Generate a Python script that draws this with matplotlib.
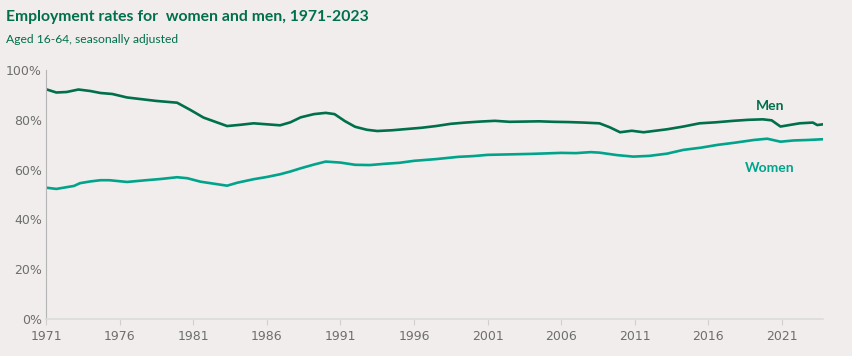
import matplotlib.pyplot as plt
import numpy as np

# data (employment rate, %)
men_years = [1971.0, 1971.7, 1972.4, 1973.2, 1974.0, 1974.7, 1975.5, 1976.5, 1977.5, 1978.5,
             1979.9, 1980.8, 1981.7, 1982.5, 1983.3, 1984.2, 1985.1, 1986.0, 1986.9, 1987.6,
             1988.3, 1989.2, 1990.0, 1990.6, 1991.3, 1992.0, 1992.8, 1993.5, 1994.5, 1995.5,
             1996.5, 1997.5, 1998.5, 1999.5, 2000.5, 2001.5, 2002.5, 2003.5, 2004.5, 2005.5,
             2006.5, 2007.5, 2008.6, 2009.3, 2010.0, 2010.8, 2011.6, 2012.4, 2013.2, 2014.3,
             2015.4, 2016.5, 2017.7, 2018.7, 2019.7, 2020.3, 2020.9, 2021.5, 2022.2, 2023.1,
             2023.4, 2023.8]
men = [92.3, 91.0, 91.2, 92.2, 91.6, 90.8, 90.4, 89.0, 88.3, 87.6,
       86.9, 84.0, 80.9, 79.2, 77.5, 78.0, 78.6, 78.2, 77.8, 79.0,
       81.0, 82.3, 82.8, 82.3, 79.5, 77.2, 76.0, 75.5, 75.8, 76.3,
       76.8, 77.5, 78.4, 78.9, 79.3, 79.6, 79.2, 79.3, 79.4, 79.2,
       79.1, 78.9, 78.6, 77.0, 75.0, 75.6, 75.0, 75.6, 76.2, 77.3,
       78.6, 79.0, 79.6, 80.0, 80.2, 79.8, 77.3, 77.9, 78.6, 78.9,
       77.9, 78.2]

women_years = [1971.0, 1971.7, 1972.9, 1973.3, 1974.0, 1974.7, 1975.3, 1976.5, 1977.8, 1978.8,
               1979.9, 1980.6, 1981.5, 1982.4, 1983.3, 1984.0, 1985.1, 1986.0, 1986.9, 1987.6,
               1988.3, 1989.2, 1990.0, 1991.0, 1992.0, 1993.0, 1994.0, 1995.0, 1996.0, 1997.5,
               1999.0, 2000.0, 2001.0, 2002.5, 2004.0, 2005.0, 2006.0, 2007.0, 2008.0, 2008.6,
               2009.8, 2010.9, 2012.0, 2013.2, 2014.3, 2015.5, 2016.6, 2017.8, 2019.1, 2020.0,
               2020.9, 2021.8, 2022.8, 2023.8]
women = [52.7, 52.2, 53.4, 54.5, 55.2, 55.7, 55.7, 55.0, 55.7, 56.2,
         56.9, 56.5, 55.1, 54.3, 53.5, 54.7, 56.1, 57.0, 58.1, 59.2,
         60.5, 62.0, 63.2, 62.8, 61.9, 61.8, 62.3, 62.7, 63.5, 64.2,
         65.1, 65.4, 65.9, 66.1, 66.3, 66.5, 66.7, 66.6, 67.0, 66.8,
         65.8, 65.2, 65.5, 66.4, 67.9, 68.8, 69.9, 70.8, 71.9, 72.4,
         71.2, 71.7, 71.9, 72.2]

xticks = [1971, 1976, 1981, 1986, 1991, 1996, 2001, 2006, 2011, 2016, 2021]
yticks = [0, 20, 40, 60, 80, 100]

bg = '#f1edec'
men_col = '#006f4b'
women_col = '#00a48b'
grey = '#6e6e6e'

fig = plt.figure(figsize=(8.53, 3.56), dpi=100, facecolor=bg)
ax = fig.add_axes([0.054, 0.105, 0.911, 0.698], facecolor=bg)

ax.plot(men_years, men, color=men_col, lw=1.9, solid_joinstyle='round')
ax.plot(women_years, women, color=women_col, lw=1.9, solid_joinstyle='round')

ax.set_xlim(1971, 2023.8)
ax.set_ylim(0, 100)
ax.set_xticks(xticks)
ax.set_xticklabels([str(x) for x in xticks])
ax.set_yticks(yticks)
ax.set_yticklabels([f'{y}%' for y in yticks])

tick_font = ['Liberation Sans Narrow', 'DejaVu Sans Condensed', 'DejaVu Sans']
for lab in ax.get_xticklabels() + ax.get_yticklabels():
    lab.set_family(tick_font)
    lab.set_fontsize(9)
    lab.set_color(grey)

ax.tick_params(axis='x', length=4, color='#cfcfcf', pad=4)
ax.tick_params(axis='y', length=0, pad=3)

for s in ['top', 'right']:
    ax.spines[s].set_visible(False)
ax.spines['left'].set_color('#b5b5b5')
ax.spines['bottom'].set_color('#dcdcdc')
ax.spines['bottom'].set_linewidth(1.2)

ax.text(2020.2, 85.5, 'Men', color=men_col, fontsize=10, fontweight='bold',
        family=['Lato', 'DejaVu Sans'], ha='center', va='center')
ax.text(2020.2, 60.8, 'Women', color=women_col, fontsize=10, fontweight='bold',
        family=['Lato', 'DejaVu Sans'], ha='center', va='center')

fig.text(0.007, 0.952, 'Employment rates for  women and men, 1971-2023', color=men_col,
         fontsize=11.3, fontweight='bold', family=['Lato', 'DejaVu Sans'], va='center')
fig.text(0.007, 0.89, 'Aged 16-64, seasonally adjusted', color=men_col,
         fontsize=8.7, family=['Lato', 'DejaVu Sans'], va='center')

fig.savefig('out.png', dpi=100, facecolor=bg)
